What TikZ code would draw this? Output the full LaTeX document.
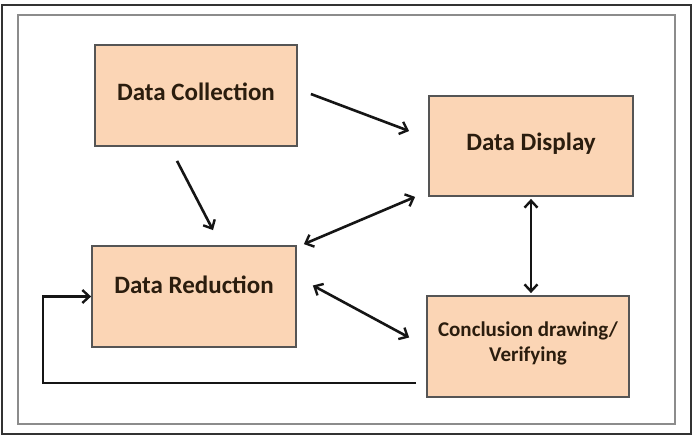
\documentclass[tikz,border=0pt]{standalone}
\usepackage{fontspec}
\setmainfont{Carlito}
\usetikzlibrary{arrows.meta,calc}
\definecolor{peach}{HTML}{FBD5B5}
\definecolor{boxline}{HTML}{555555}
\definecolor{txt}{HTML}{2B1D0E}
\definecolor{arr}{HTML}{151515}
\tikzset{
  stagebox/.style={draw=boxline, line width=1.8pt, fill=peach, text=txt,
    font=\fontsize{25}{30}\selectfont\bfseries, inner sep=0pt, align=center},
  tip/.tip={Straight Barb[length=7pt,width=13pt,line width=2.4pt]},
  conn/.style={draw=arr, line width=2.6pt, -tip},
  bconn/.style={draw=arr, line width=2.6pt, tip-tip},
}
\begin{document}
\begin{tikzpicture}[x=1pt,y=-1pt]
\useasboundingbox (0,0) rectangle (694,440);
\fill[white] (0,0) rectangle (694,440);
\draw[line width=2.4pt, draw=black!80] (2,5) rectangle (691,434);
\draw[line width=1.6pt, draw=black!45, fill=white] (18,15) rectangle (675,424);

\node[stagebox, minimum width=202pt, minimum height=101pt] (dc) at (196,95.5)
  {\raisebox{4pt}[\height][\depth]{Data Collection}};
\node[stagebox, minimum width=204pt, minimum height=100pt] (dd) at (531,146)
  {\raisebox{2pt}[\height][\depth]{Data Display}};
\node[stagebox, minimum width=204pt, minimum height=101pt] (dr) at (194,296.5)
  {\raisebox{12pt}[\height][\depth]{Data Reduction}};
\node[stagebox, minimum width=202pt, minimum height=101pt, font=\fontsize{21}{29}\selectfont\bfseries] (cv) at (528,346.5)
  {\raisebox{3pt}[\height][\depth]{\shortstack{Conclusion drawing/\\[3pt]Verifying}}};

% connectors
\coordinate (dcA) at ($(dc.east)+(13,-1.5)$);
\coordinate (ddA) at ($(dd.west)+(-19,-15)$);
\draw[conn] (dcA) -- (ddA);

\coordinate (dcB) at ($(dc.south)+(-19,14)$);
\coordinate (drB) at ($(dr.north)+(19,-15)$);
\draw[conn] (dcB) -- (drB);

\coordinate (ddC) at ($(dd.south west)+(-13,0)$);
\coordinate (drC) at ($(dr.north east)+(7,-1)$);
\draw[bconn] (ddC) -- (drC);

\coordinate (drD) at ($(dr.east)+(16,-11)$);
\coordinate (cvD) at ($(cv.west)+(-17,-9)$);
\draw[bconn] (drD) -- (cvD);

\draw[bconn] ($(dd.south)+(0,2)$) -- ($(cv.north)+(3,-2)$);

\coordinate (fbStart) at ($(cv.west)+(-10,36.5)$);
\coordinate (fbCorner) at (43,383);
\draw[conn] (fbStart) -- (fbCorner) |- (dr.west);
\end{tikzpicture}
\end{document}
